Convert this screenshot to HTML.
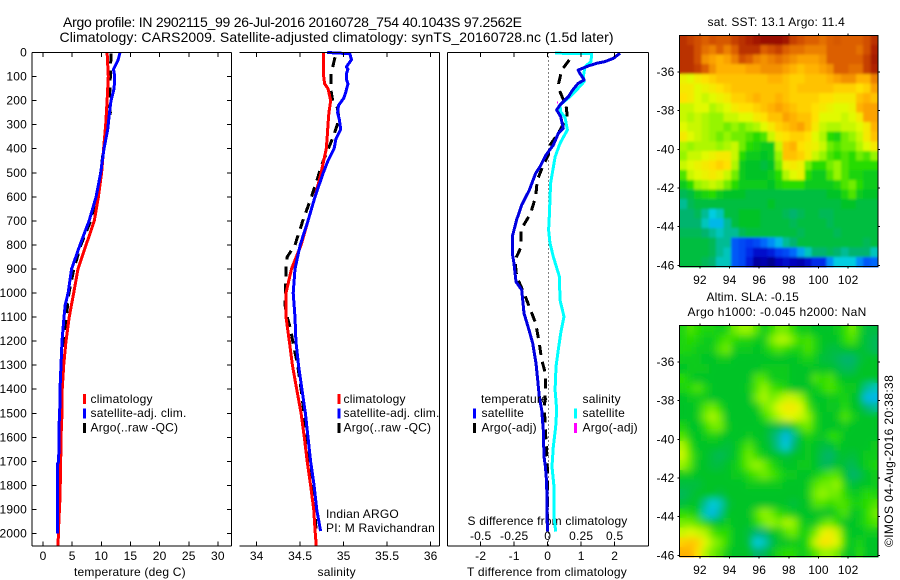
<!DOCTYPE html>
<html lang="en">
<head>
<meta charset="utf-8">
<title>Argo profile</title>
<style>
html,body{margin:0;padding:0;background:#fff;}
svg{display:block;font-family:"Liberation Sans",sans-serif;}
text{fill:#000;font-size:12px;letter-spacing:.2px;}
.t14{font-size:14px;letter-spacing:0;}
</style>
</head>
<body>
<svg id="chart" width="900" height="580" viewBox="0 0 900 580" xmlns="http://www.w3.org/2000/svg">
  <defs>
    <filter id="blur-sst" x="-5%" y="-5%" width="110%" height="110%"><feGaussianBlur stdDeviation="1.3"/></filter>
    <filter id="blur-sla" x="-5%" y="-5%" width="110%" height="110%"><feGaussianBlur stdDeviation="3.6"/></filter>
  </defs>
  <rect x="0" y="0" width="900" height="580" fill="#fff"/>
  <text class="t14" x="63" y="27" textLength="459">Argo profile: IN 2902115_99 26-Jul-2016 20160728_754 40.1043S 97.2562E</text>
  <text class="t14" x="59.5" y="42" textLength="554">Climatology: CARS2009. Satellite-adjusted climatology: synTS_20160728.nc (1.5d later)</text>
  <text x="74" y="576">temperature (deg C)</text>
  <text x="317.5" y="576">salinity</text>
  <text x="467" y="576" textLength="160">T difference from climatology</text>
  <text x="467.5" y="525" textLength="160">S difference from climatology</text>
  <g id="plots"></g>
  <g id="maps"></g>
  <g>
    <rect x="83" y="394" width="3" height="10" fill="#f00"/>
    <text x="90.5" y="403">climatology</text>
    <rect x="83" y="408.5" width="3" height="10" fill="#00f"/>
    <text x="90.5" y="417">satellite-adj. clim.</text>
    <rect x="83" y="423" width="3" height="10" fill="#000"/>
    <text x="90.5" y="431.5">Argo(..raw -QC)</text>
  </g>
  <g>
    <rect x="337.5" y="394" width="3" height="10" fill="#f00"/>
    <text x="343.5" y="403">climatology</text>
    <rect x="337.5" y="408.5" width="3" height="10" fill="#00f"/>
    <text x="343.5" y="417">satellite-adj. clim.</text>
    <rect x="337.5" y="423" width="3" height="10" fill="#000"/>
    <text x="343.5" y="431.5">Argo(..raw -QC)</text>
    <text x="326" y="518">Indian ARGO</text>
    <text x="326" y="532">PI: M Ravichandran</text>
  </g>
  <g>
    <text x="481" y="403">temperature</text>
    <rect x="473" y="408.5" width="3" height="10" fill="#00f"/>
    <text x="481.5" y="417">satellite</text>
    <rect x="473" y="423" width="3" height="10" fill="#000"/>
    <text x="481.5" y="431.5">Argo(-adj)</text>
    <text x="582.5" y="403">salinity</text>
    <rect x="574" y="408.5" width="3" height="10" fill="#0ff"/>
    <text x="582.5" y="417">satellite</text>
    <rect x="574" y="423" width="3" height="10" fill="#f0f"/>
    <text x="582.5" y="431.5">Argo(-adj)</text>
  </g>
  <text x="707.5" y="26" textLength="137.5">sat. SST: 13.1 Argo: 11.4</text>
  <text x="706.5" y="301" textLength="92.5">Altim. SLA: -0.15</text>
  <text x="687.5" y="316" textLength="179">Argo h1000: -0.045 h2000: NaN</text>
  <text transform="translate(893,547) rotate(-90)" textLength="172">©IMOS 04-Aug-2016 20:38:38</text>
</svg>
<script>
// ---------- depth / pressure ticks ----------
const depthTicks = [0,100,200,300,400,500,600,700,800,900,1000,1100,1200,1300,1400,1500,1600,1700,1800,1900,2000];
const tempTicks = [0,5,10,15,20,25,30];
const salTicks = [34,34.5,35,35.5,36];
const salTickLabels = ['34','34.5','35','35.5','36'];
const tDiffTicks = [-2,-1,0,1,2];
const sDiffTicks = [-0.5,-0.25,0,0.25,0.5];
const sDiffTickLabels = ['-0.5','-0.25','0','0.25','0.5'];
const lonTicks = [92,94,96,98,100,102];
const latTicks = [-36,-38,-40,-42,-44,-46];

// ---------- temperature profiles ----------
const climTempDepth = [0,100,200,300,400,500,600,700,800,900,1000,1100,1200,1300,1400,1500,1600,1700,1850,2000,2052];
const climTemp = [11.0,11.2,11.0,10.75,10.4,10.05,9.5,8.8,7.4,6.0,5.26,4.5,3.95,3.55,3.3,3.26,3.09,3.03,2.92,2.63,2.6];
const satTempDepth = [0,30,70,100,150,200,250,320,400,500,600,700,800,900,1000,1050,1100,1200,1300,1400,1500,1550,1700,1710,2000];
const satTemp = [13.2,12.9,12.1,12.3,12.2,11.66,11.4,11.1,10.46,9.9,9.1,7.9,6.35,4.9,4.3,3.8,3.6,3.26,3.09,2.92,2.87,2.75,2.7,2.5,2.5];
const argoTempDepth = [5,100,150,200,250,300,400,500,600,700,800,900,1000,1100,1200,1300,1400,1500,1600,1800,2000];
const argoTemp = [11.66,11.55,11.5,11.3,11.55,11.1,10.4,9.9,9.1,8.18,6.5,5.3,4.45,4.0,3.6,3.35,3.26,3.09,2.98,2.8,2.63];

// ---------- salinity profiles ----------
const climSalDepth = [0,50,100,130,150,200,250,300,350,400,450,500,600,700,800,900,1000,1100,1200,1300,1400,1500,1600,1700,1800,1900,2000,2052];
const climSal = [34.766,34.766,34.77,34.78,34.82,34.85,34.83,34.82,34.81,34.80,34.77,34.74,34.67,34.59,34.51,34.40,34.337,34.337,34.375,34.41,34.46,34.51,34.547,34.58,34.62,34.655,34.674,34.685];
const satSalDepth = [0,5,30,60,70,90,110,130,170,190,220,250,280,320,360,400,450,500,600,700,800,900,1000,1100,1200,1300,1400,1500,1600,1700,1800,1900,1990];
const satSal = [34.81,35.07,35.09,35.03,35.05,35.03,35.03,35.05,35.02,35.0,34.94,34.93,34.95,34.965,34.91,34.89,34.82,34.765,34.67,34.59,34.5,34.44,34.42,34.44,34.45,34.48,34.52,34.56,34.59,34.62,34.66,34.69,34.735];
const argoSalDepth = [20,50,80,100,150,200,230,260,300,350,400,450,500,600,700,800,850,900,1000,1050,1100,1150,1200,1300,1400,1500,1600,1700,1800,1900,1980];
const argoSal = [34.90,34.88,34.86,34.854,34.85,34.874,34.926,34.94,34.926,34.88,34.823,34.766,34.72,34.63,34.53,34.44,34.35,34.337,34.33,34.325,34.35,34.39,34.414,34.47,34.51,34.544,34.58,34.61,34.64,34.67,34.68];

// ---------- differences from climatology ----------
const satTDiffDepth = [3,24,38,45,56,73,82,114,128,156,184,218,239,267,315,336,385,426,475,502,572,634,696,766,835,877,953,987,1029,1084,1154,1209,1292,1362,1431,1486,1570,1680,1722,1791,1930,1992];
const satTDiff = [2.16,1.96,1.71,1.46,1.21,0.91,0.94,1.09,0.91,0.745,0.616,0.367,0.268,0.387,0.466,0.317,0.168,-0.051,-0.23,-0.359,-0.548,-0.777,-0.927,-1.056,-1.056,-1.006,-0.946,-0.777,-0.747,-0.708,-0.558,-0.449,-0.35,-0.3,-0.25,-0.18,-0.13,-0.11,-0.07,-0.03,-0.02,0];
const argoTDiffDepth = [31,73,128,156,190,218,267,336,385,426,468,530,599,669,738,807,863,932,1001,1057,1126,1209,1278,1334,1403,1472,1542,1667,1736,1833,1992];
const argoTDiff = [0.646,0.417,0.327,0.347,0.447,0.546,0.586,0.317,0.068,0.019,-0.13,-0.31,-0.359,-0.509,-0.807,-0.787,-0.976,-0.927,-0.708,-0.548,-0.359,-0.25,-0.18,-0.07,-0.06,-0.1,-0.08,-0.03,-0.01,-0.01,0];
const satSDiffDepth = [3,4,38,59,100,120,156,184,218,246,270,322,378,434,543,682,738,793,849,932,1029,1098,1167,1236,1306,1403,1486,1556,1639,1722,1805,1930,1992];
const satSDiff = [0.055,0.328,0.323,0.278,0.266,0.273,0.216,0.166,0.092,0.097,0.129,0.147,0.092,0.055,0.022,0.012,0.007,0.017,0.042,0.087,0.092,0.122,0.097,0.079,0.062,0.055,0.067,0.06,0.042,0.032,0.047,0.047,0.06];
const argoSDiffDepth = [203,212];
const argoSDiff = [0.072,0.072];

// ---------- SST map cells (colour-scale index 0-100), rows north to south ----------
const sstGrid = [
[90,88,86,84,86,85,85,88,90,92,95,97,97,97,95,88,86,84,84,82,84,85,84,84,84,86,90],
[90,90,86,82,80,84,80,84,90,90,90,84,86,88,84,82,82,80,80,80,84,84,84,84,82,86,92],
[90,90,86,78,76,74,76,80,86,84,80,78,80,82,80,78,76,76,76,78,84,84,84,84,84,88,94],
[90,90,88,84,78,74,74,74,74,76,76,78,78,78,76,74,72,74,74,76,78,84,84,82,82,88,92],
[64,62,66,68,70,72,72,72,72,72,72,72,74,74,72,70,70,72,72,72,74,76,78,78,74,74,80],
[66,66,62,64,66,68,70,72,72,72,72,72,72,72,72,70,72,72,72,72,72,70,70,70,68,70,76],
[68,66,62,60,62,64,66,70,70,72,74,72,72,74,72,70,70,70,70,68,68,66,66,66,72,74,72],
[60,60,62,62,58,60,62,66,68,68,70,72,74,76,74,72,70,70,68,66,64,62,62,64,74,76,76],
[60,58,60,58,56,56,60,60,62,62,66,68,72,72,76,74,72,72,68,62,62,62,60,62,66,76,76],
[62,60,60,58,56,56,54,56,54,56,58,62,66,70,72,74,76,72,66,60,58,58,60,60,62,66,74],
[66,62,60,58,56,54,56,54,54,52,50,52,60,66,68,70,70,68,62,58,50,48,54,56,60,66,72],
[58,56,58,58,58,56,58,60,54,50,48,46,46,60,72,74,68,66,64,60,54,52,54,54,58,62,66],
[56,60,60,62,64,66,66,60,50,46,46,44,46,56,72,72,70,66,60,56,52,50,52,50,54,52,56],
[60,62,64,66,68,70,68,58,46,44,44,42,44,54,64,66,64,54,50,50,54,56,52,50,50,50,50],
[52,60,62,64,66,64,60,54,46,44,44,44,46,50,58,62,64,50,46,46,52,56,52,48,48,46,46],
[46,50,56,58,60,58,54,50,46,46,46,46,44,48,50,50,50,46,46,46,46,48,52,54,50,46,46],
[40,42,46,48,50,46,44,44,44,42,42,42,42,42,42,42,42,42,42,42,44,44,48,52,46,44,44],
[36,40,42,42,42,42,42,42,42,42,42,42,44,42,42,42,42,42,42,42,42,42,44,44,42,42,42],
[38,38,40,36,32,34,42,42,44,44,44,42,42,42,40,38,40,42,42,40,40,42,42,42,42,42,42],
[38,38,38,34,30,30,36,42,44,44,44,42,42,42,42,40,42,42,42,42,40,42,42,42,42,42,42],
[40,40,40,38,36,34,36,36,40,42,42,42,42,42,42,42,40,42,42,42,42,40,42,42,42,42,42],
[42,42,42,42,40,36,36,20,18,16,18,22,26,30,36,38,42,42,42,42,42,42,42,42,42,40,42],
[42,42,42,42,40,36,34,20,18,14,10,10,12,16,18,22,28,34,38,38,40,38,36,38,38,38,34],
[42,42,42,40,38,34,34,20,18,12,4,6,2,8,10,8,6,10,14,14,26,32,32,32,26,20,22]
];

// ---------- sea level anomaly map cells (colour-scale index 0-100), rows north to south ----------
const slaGrid = [
[48,52,50,48,48,46,48,54,56,56,52,46,50,54,54,50,46,46,44,44,44,46,50,54,48,42,42],
[48,50,48,46,46,50,52,50,48,48,46,46,54,58,58,54,50,52,48,44,44,44,50,52,46,42,40],
[48,48,46,46,46,52,54,46,46,46,44,46,50,52,50,48,48,52,48,44,42,42,44,44,44,42,40],
[46,46,46,44,44,46,46,44,44,44,44,44,44,44,44,44,46,48,46,42,42,40,38,38,42,44,44],
[44,46,46,46,44,44,44,44,44,44,44,46,46,46,46,44,44,44,44,44,44,42,40,40,44,44,44],
[50,46,44,44,44,44,44,44,44,44,52,52,46,46,46,44,44,44,52,50,52,46,44,44,44,44,44],
[48,50,52,48,44,44,44,44,44,46,52,56,52,50,48,44,44,44,46,50,52,50,46,46,44,36,34],
[44,46,46,46,44,44,44,44,44,44,54,58,54,56,60,60,56,48,44,44,46,46,48,44,42,30,30],
[44,44,46,52,54,50,44,44,44,44,46,54,56,62,66,66,62,52,46,44,46,44,50,44,44,38,36],
[44,44,46,54,58,54,44,44,44,44,44,50,54,58,62,62,60,56,48,44,44,46,52,48,44,44,44],
[48,44,44,50,54,54,46,44,44,44,44,44,42,42,40,46,52,54,48,44,44,44,46,44,44,44,44],
[52,46,44,46,48,46,44,44,44,46,44,44,40,36,30,36,44,48,46,44,50,50,44,44,44,44,44],
[58,50,44,44,44,44,42,44,48,52,46,44,42,36,32,38,44,46,44,42,42,46,44,44,44,44,46],
[60,52,46,44,42,40,42,44,50,54,50,46,44,44,42,44,44,46,44,40,38,42,44,42,44,46,46],
[56,52,44,44,42,42,44,46,50,54,56,54,50,46,44,44,46,46,44,40,40,44,42,40,44,46,48],
[46,46,44,44,44,44,44,46,46,50,52,54,52,50,46,46,44,44,46,50,52,52,44,38,40,44,46],
[42,42,42,44,44,44,44,44,44,46,46,46,46,46,44,44,44,46,52,54,54,56,48,42,44,44,46],
[40,42,44,44,44,42,44,44,44,44,44,44,44,44,44,44,44,46,54,56,54,54,50,46,46,50,48],
[42,44,44,36,32,34,42,44,44,44,44,44,44,44,44,42,44,44,52,52,50,52,52,48,48,50,52],
[50,48,46,34,30,36,44,44,44,44,52,56,54,50,48,46,44,44,44,44,44,48,52,44,46,50,54],
[54,54,52,48,44,44,46,44,44,44,50,54,56,54,58,56,48,44,46,52,54,50,44,44,46,50,52],
[60,62,60,58,52,50,50,44,44,42,38,38,44,46,52,54,48,48,54,62,66,60,48,44,44,46,46],
[70,72,70,62,56,54,50,44,44,42,32,34,40,44,44,46,46,50,60,68,66,62,50,44,48,44,44],
[74,74,68,58,54,52,46,44,44,44,38,40,44,48,50,50,46,48,52,56,56,54,46,44,50,44,44]
];

// ---------- axis functions ----------
const NS = 'http://www.w3.org/2000/svg';
const plotTop = 52.5, plotBottom = 546;
function yDepth(d){ return plotTop + d * 0.2405; }
function xTemp(v){ return 43 + v * 5.83; }
function xSal(v){ return 256.7 + (v - 34) * 87; }
function xTDiff(v){ return 547.7 + v * 33.5; }
function xSDiff(v){ return 547.7 + v * 134; }
function lonX(v){ return 679.5 + (v - 90.62) * 14.82; }
function latYSst(v){ return 72 + (-36 - v) * 19.33; }
function latYSla(v){ return 362 + (-36 - v) * 19.33; }

function make(parent, tag, attrs, text){
  const el = document.createElementNS(NS, tag);
  for (const k in attrs) el.setAttribute(k, attrs[k]);
  if (text !== undefined) el.textContent = text;
  parent.appendChild(el);
  return el;
}
function hline(g, name, x1, x2, y){
  const el = make(g, 'line', {x1:x1, x2:x2, y1:y, y2:y, stroke:'#000', 'stroke-width':1, 'shape-rendering':'crispEdges'});
  
  
  return el;
}
function vline(g, name, x, y1, y2){
  const el = make(g, 'line', {x1:x, x2:x, y1:y1, y2:y2, stroke:'#000', 'stroke-width':1, 'shape-rendering':'crispEdges'});
  
  
  return el;
}
function label(g, name, x, y, anchor, str){
  const el = make(g, 'text', {x:x, y:y, 'text-anchor':anchor}, str);
  
  
  return el;
}
function profile(g, name, depths, values, xf, color, dashed, width){
  const pts = depths.map(function(d, i){ return xf(values[i]).toFixed(1) + ',' + yDepth(d).toFixed(1); }).join(' ');
  const el = make(g, 'polyline', {points:pts, fill:'none', stroke:color, 'stroke-width':width || 3, 'shape-rendering':'crispEdges', 'stroke-linejoin':'round'});
  if (dashed) el.setAttribute('stroke-dasharray', '10 7');
  
  
  return el;
}

const plots = document.getElementById('plots');
const maps = document.getElementById('maps');

// ---------- panel 1: temperature ----------
const p1 = make(plots, 'g', {});


profile(p1, 'argo-temperature-line', argoTempDepth, argoTemp, xTemp, '#000', true);
profile(p1, 'climatology-temperature-line', climTempDepth, climTemp, xTemp, '#f00', false);
profile(p1, 'satellite-temperature-line', satTempDepth, satTemp, xTemp, '#00f', false);
hline(p1, 'temperature-top-axis', 32, 231.5, 52.5);
hline(p1, 'temperature-bottom-axis', 32, 231.5, 546);
vline(p1, 'temperature-left-axis', 32, 52.5, 546);
vline(p1, 'temperature-right-axis', 231.5, 52.5, 546);
depthTicks.forEach(function(d){
  hline(p1, 'depth-tick-left', 32, 36.5, yDepth(d));
  hline(p1, 'depth-tick-right', 227, 231.5, yDepth(d));
  label(p1, 'depth-tick-label', 27, yDepth(d) + 4, 'end', String(d));
});
tempTicks.forEach(function(v){
  vline(p1, 'temperature-tick-top', xTemp(v), 52.5, 57);
  vline(p1, 'temperature-tick-bottom', xTemp(v), 541.5, 546);
  label(p1, 'temperature-tick-label', xTemp(v), 560, 'middle', String(v));
});

// ---------- panel 2: salinity ----------
const p2 = make(plots, 'g', {});


profile(p2, 'argo-salinity-line', argoSalDepth, argoSal, xSal, '#000', true);
profile(p2, 'climatology-salinity-line', climSalDepth, climSal, xSal, '#f00', false);
profile(p2, 'satellite-salinity-line', satSalDepth, satSal, xSal, '#00f', false);
hline(p2, 'salinity-top-axis', 239.5, 439.5, 52.5);
hline(p2, 'salinity-bottom-axis', 239.5, 439.5, 546);
vline(p2, 'salinity-right-axis', 439.5, 52.5, 546);
salTicks.forEach(function(v, i){
  vline(p2, 'salinity-tick-top', xSal(v), 52.5, 57);
  vline(p2, 'salinity-tick-bottom', xSal(v), 541.5, 546);
  label(p2, 'salinity-tick-label', xSal(v), 560, 'middle', salTickLabels[i]);
});

// ---------- panel 3: differences ----------
const p3 = make(plots, 'g', {});


const zeroLine = vline(p3, 'zero-difference-line', xTDiff(0) + 0.6, 52.5, 546);
zeroLine.setAttribute('stroke-dasharray', '1 3');
profile(p3, 'argo-t-difference-line', argoTDiffDepth, argoTDiff, xTDiff, '#000', true);
profile(p3, 'argo-s-difference-line', argoSDiffDepth, argoSDiff, xSDiff, '#f0f', false, 1);
profile(p3, 'satellite-s-difference-line', satSDiffDepth, satSDiff, xSDiff, '#0ff', false);
profile(p3, 'satellite-t-difference-line', satTDiffDepth, satTDiff, xTDiff, '#0000e0', false);
hline(p3, 'difference-top-axis', 447.5, 648.5, 52.5);
hline(p3, 'difference-bottom-axis', 447.5, 648.5, 546);
vline(p3, 'difference-left-axis', 447.5, 52.5, 546);
vline(p3, 'difference-right-axis', 648.5, 52.5, 546);
tDiffTicks.forEach(function(v){
  vline(p3, 't-difference-tick-top', xTDiff(v), 52.5, 57);
  vline(p3, 't-difference-tick-bottom', xTDiff(v), 541.5, 546);
  label(p3, 't-difference-tick-label', xTDiff(v), 560, 'middle', String(v));
});
sDiffTicks.forEach(function(v, i){
  label(p3, 's-difference-tick-label', xSDiff(v), 540, 'middle', sDiffTickLabels[i]);
});

// ---------- maps ----------
const stops = [
  [0,[0,0,130]],[0.08,[0,0,190]],[0.15,[0,50,240]],[0.24,[0,120,255]],[0.32,[0,205,225]],
  [0.38,[0,180,110]],[0.44,[0,195,40]],[0.5,[40,220,0]],[0.56,[150,245,0]],[0.62,[225,250,0]],
  [0.68,[255,225,0]],[0.75,[255,170,0]],[0.84,[220,95,0]],[0.92,[175,35,0]],[1,[140,0,0]]
];
function colour(idx){
  const v = idx / 100;
  for (let i = 1; i < stops.length; i++){
    if (v <= stops[i][0]){
      const a = stops[i-1], b = stops[i], f = (v - a[0]) / (b[0] - a[0]);
      return 'rgb(' + a[1].map(function(c, k){ return Math.round(c + (b[1][k] - c) * f); }).join(',') + ')';
    }
  }
  return 'rgb(140,0,0)';
}
const mapLonMin = 90.62, mapLonMax = 104, mapLatTop = -34.1, mapLatBottom = -46.07;
function drawMap(gridName, grid, latY, blurId){
  const g = make(maps, 'g', {});
  
  
  const x0 = lonX(mapLonMin), x1 = lonX(mapLonMax), y0 = latY(mapLatTop), y1 = latY(mapLatBottom);
  const clip = make(g, 'clipPath', {id:gridName + '-clip'});
  make(clip, 'rect', {x:x0, y:y0, width:x1 - x0, height:y1 - y0});
  const cells = make(g, 'g', {id:gridName + '-cells'});
  
  
  const nr = grid.length, nc = grid[0].length;
  grid.forEach(function(row, r){
    const la0 = mapLatTop + (mapLatBottom - mapLatTop) * r / nr;
    const la1 = mapLatTop + (mapLatBottom - mapLatTop) * (r + 1) / nr;
    row.forEach(function(val, c){
      const lo0 = mapLonMin + (mapLonMax - mapLonMin) * c / nc;
      const lo1 = mapLonMin + (mapLonMax - mapLonMin) * (c + 1) / nc;
      const cell = make(cells, 'rect', {x:lonX(lo0).toFixed(2), y:latY(la0).toFixed(2), width:(lonX(lo1) - lonX(lo0) + 0.6).toFixed(2), height:(latY(la1) - latY(la0) + 0.6).toFixed(2), fill:colour(val), 'shape-rendering':'crispEdges'});
      
      
    });
  });
  const clipWrap = make(g, 'g', {'clip-path':'url(#' + gridName + '-clip)'});
  
  
  make(clipWrap, 'use', {href:'#' + gridName + '-cells', filter:'url(#' + blurId + ')'});
  const frame = make(g, 'rect', {x:x0, y:y0, width:x1 - x0, height:y1 - y0, fill:'none', stroke:'#000', 'stroke-width':1, 'shape-rendering':'crispEdges'});
  
  
  lonTicks.forEach(function(v){
    vline(g, 'longitude-tick-top', lonX(v), y0 - 2, y0);
    vline(g, 'longitude-tick-bottom', lonX(v), y1, y1 + 2);
    label(g, 'longitude-tick-label', lonX(v), y1 + 17.5, 'middle', String(v));
  });
  latTicks.forEach(function(v){
    hline(g, 'latitude-tick-left', x0 - 2, x0, latY(v));
    hline(g, 'latitude-tick-right', x1, x1 + 2, latY(v));
    label(g, 'latitude-tick-label', x0 - 5, latY(v) + 4, 'end', String(v));
  });
}
drawMap('sst-map', sstGrid, latYSst, 'blur-sst');
drawMap('sla-map', slaGrid, latYSla, 'blur-sla');
</script>
</body>
</html>
